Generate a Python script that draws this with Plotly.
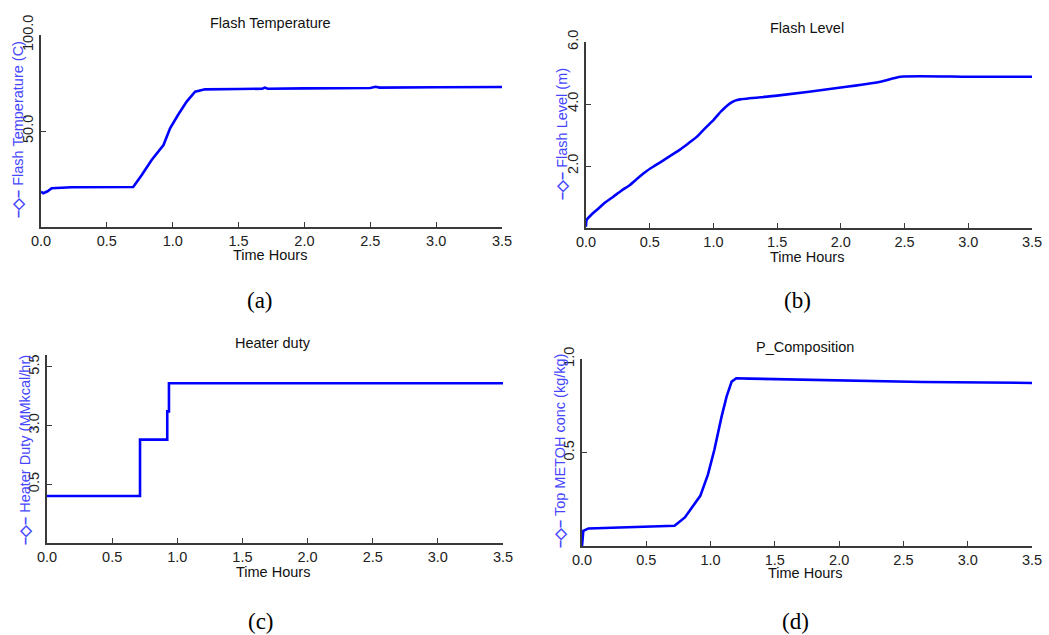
import plotly.graph_objects as go

W, H = 1049, 635

# ---------------- data ----------------
time_a = [0.0, 0.017, 0.05, 0.081, 0.233, 0.70, 0.765, 0.84, 0.93, 0.98, 1.04, 1.106, 1.17, 1.245,
          1.5, 1.68, 1.70, 1.72, 2.0, 2.5, 2.54, 2.57, 3.0, 3.5]
temp_a = [18.4, 17.6, 18.6, 20.2, 20.7, 20.8, 27.1, 34.9, 42.7, 51.4, 58.3, 65.3, 70.5, 71.7,
          71.9, 72.0, 72.6, 72.0, 72.2, 72.4, 73.0, 72.6, 72.8, 72.9]

time_b = [0.0, 0.005, 0.04, 0.084, 0.15, 0.214, 0.28, 0.345, 0.41, 0.476, 0.54, 0.607, 0.67,
          0.738, 0.80, 0.869, 0.93, 1.0, 1.06, 1.13, 1.17, 1.21,
          1.5, 2.0, 2.31, 2.47, 3.0, 3.5]
level_b = [0.04, 0.26, 0.42, 0.58, 0.82, 1.01, 1.21, 1.39, 1.62, 1.84, 2.01, 2.18, 2.35,
           2.53, 2.72, 2.94, 3.2, 3.48, 3.76, 4.02, 4.11, 4.15,
           4.27, 4.53, 4.72, 4.88, 4.88, 4.88]

time_c = [0.0, 0.714, 0.923, 0.936, 3.5]
duty_c = [0.0, 2.4, 3.6, 4.8, 4.8]

time_d = [0.0, 0.01, 0.05, 0.49, 0.72, 0.80, 0.92, 0.98, 1.03, 1.086, 1.125, 1.164, 1.20,
          1.3, 1.64, 2.07, 2.65, 3.5]
comp_d = [0.0, 0.081, 0.094, 0.103, 0.108, 0.153, 0.268, 0.383, 0.516, 0.693, 0.80, 0.879, 0.897,
          0.895, 0.89, 0.884, 0.877, 0.872]

x_ticks = [0.0, 0.5, 1.0, 1.5, 2.0, 2.5, 3.0, 3.5]
titles = ["Flash Temperature", "Flash Level", "Heater duty", "P_Composition"]
y_titles = ["Flash Temperature (C)", "Flash Level (m)", "Heater Duty (MMkcal/hr)",
            "Top METOH conc (kg/kg)"]
y_ranges = [[0, 100], [0, 6], [-2, 6], [0, 1]]
y_tickvals = [[50, 100], [2, 4, 6], [0.5, 3.0, 5.5], [0.5, 1.0]]
panel_labels = ["(a)", "(b)", "(c)", "(d)"]

# ---------------- layout geometry (pixels) ----------------
# (left, right, top, bottom) of each plot area
boxes = [(41, 502, 35, 227), (586, 1032, 42, 228), (47, 503, 355, 543), (582, 1032, 359, 546)]
title_pos = [(270, 23), (807, 28), (273, 343), (805, 347)]
xtitle_pos = [(270, 255), (807, 257), (273, 572), (805, 573)]
ytitle_pos = [(18, 130), (562, 134), (25, 450), (560, 451)]
label_pos = [(260, 300), (797, 300), (261, 621), (795, 621)]

SANS = "Liberation Sans, Arial, sans-serif"
AXC = "#3a3a3a"
BLUE = "#0000ff"
YT_BLUE = "#4646ff"

fig = go.Figure()
series = [(time_a, temp_a, "linear"), (time_b, level_b, "spline"),
          (time_c, duty_c, "hv"), (time_d, comp_d, "linear")]

annotations = []
for i, (xs, ys, shape) in enumerate(series):
    n = "" if i == 0 else str(i + 1)
    line = dict(color=BLUE, width=2.6, shape=shape)
    if shape == "spline":
        line["smoothing"] = 0.6
    fig.add_trace(go.Scatter(x=xs, y=ys, mode="lines", line=line,
                             xaxis="x" + n, yaxis="y" + n, showlegend=False, hoverinfo="skip"))
    l, r, t, b = boxes[i]
    fig.layout["xaxis" + n] = dict(
        domain=[l / W, r / W], anchor="y" + n, range=[0, 3.5], tickvals=x_ticks, tickformat=".1f",
        showline=True, linecolor=AXC, linewidth=1.5, ticks="inside", ticklen=5, tickwidth=1.2,
        tickcolor=AXC, showgrid=False, zeroline=False, mirror=False, automargin=False,
        tickfont=dict(family=SANS, size=14.5, color="#222222"), fixedrange=True)
    fig.layout["yaxis" + n] = dict(
        domain=[1 - b / H, 1 - t / H], anchor="x" + n, range=y_ranges[i], tickvals=y_tickvals[i],
        tickformat=".1f", tickangle=-90, showline=True, linecolor=AXC, linewidth=1.5, ticks="inside",
        ticklen=5, tickwidth=1.2, tickcolor=AXC, showgrid=False, zeroline=False, mirror=False,
        automargin=False,
        tickfont=dict(family=SANS, size=14.5, color="#222222"), fixedrange=True)

    tx, ty = title_pos[i]
    annotations.append(dict(text=titles[i], x=tx / W, y=1 - ty / H, xref="paper", yref="paper",
                            showarrow=False, xanchor="center", yanchor="middle",
                            font=dict(family=SANS, size=14.5, color="#111111")))
    tx, ty = xtitle_pos[i]
    annotations.append(dict(text="Time Hours", x=tx / W, y=1 - ty / H, xref="paper", yref="paper",
                            showarrow=False, xanchor="center", yanchor="middle",
                            font=dict(family=SANS, size=14.5, color="#111111")))
    tx, ty = ytitle_pos[i]
    annotations.append(dict(text="<b>–◇–</b> " + y_titles[i], x=tx / W, y=1 - ty / H, xref="paper",
                            yref="paper", showarrow=False, xanchor="center", yanchor="middle",
                            textangle=-90, font=dict(family=SANS, size=14.5, color=YT_BLUE)))
    tx, ty = label_pos[i]
    annotations.append(dict(text=panel_labels[i], x=tx / W, y=1 - ty / H, xref="paper", yref="paper",
                            showarrow=False, xanchor="center", yanchor="middle",
                            font=dict(family="Liberation Serif, Times New Roman, serif", size=23,
                                      color="#000000")))

fig.update_layout(width=W, height=H, margin=dict(l=0, r=0, t=0, b=0, autoexpand=False),
                  paper_bgcolor="white", plot_bgcolor="white", annotations=annotations,
                  showlegend=False)

fig.write_html("out.html", config={"displayModeBar": False})
